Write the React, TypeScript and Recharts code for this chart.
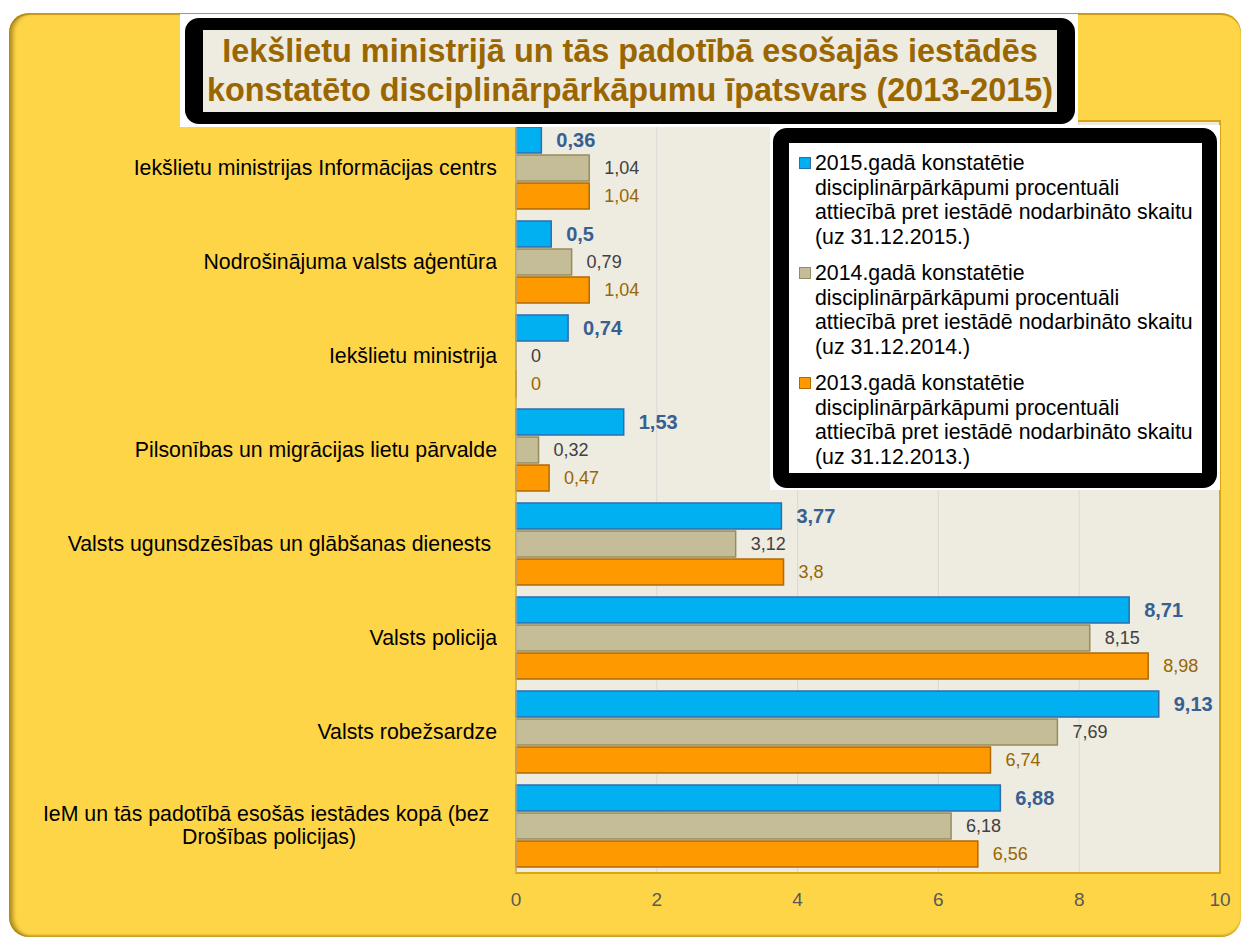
import React from 'react';
import {
  BarChart,
  Bar,
  XAxis,
  YAxis,
  CartesianGrid,
  Legend,
  LabelList,
  ReferenceArea,
} from 'recharts';

const categories = [
  'Iekšlietu ministrijas Informācijas centrs',
  'Nodrošinājuma valsts aģentūra',
  'Iekšlietu ministrija',
  'Pilsonības un migrācijas lietu pārvalde',
  'Valsts ugunsdzēsības un glābšanas dienests ',
  'Valsts policija',
  'Valsts robežsardze',
  'IeM un tās padotībā esošās iestādes kopā (bez Drošības policijas)',
];

const values2015 = [0.36, 0.5, 0.74, 1.53, 3.77, 8.71, 9.13, 6.88];
const values2014 = [1.04, 0.79, 0, 0.32, 3.12, 8.15, 7.69, 6.18];
const values2013 = [1.04, 1.04, 0, 0.47, 3.8, 8.98, 6.74, 6.56];

const xTicks = [0, 2, 4, 6, 8, 10];

const seriesNames: Record<string, string> = {
  y2015:
    '2015.gadā konstatētie\ndisciplinārpārkāpumi procentuāli\nattiecībā pret iestādē nodarbināto skaitu\n(uz 31.12.2015.)',
  y2014:
    '2014.gadā konstatētie\ndisciplinārpārkāpumi procentuāli\nattiecībā pret iestādē nodarbināto skaitu\n(uz 31.12.2014.)',
  y2013:
    '2013.gadā konstatētie\ndisciplinārpārkāpumi procentuāli\nattiecībā pret iestādē nodarbināto skaitu\n(uz 31.12.2013.)',
};

const seriesOrder = ['y2015', 'y2014', 'y2013'];

const styles: Record<string, { fill: string; stroke: string; label: string; bold: boolean; size: number }> = {
  y2015: { fill: '#00B0F0', stroke: '#2F6CAD', label: '#376092', bold: true, size: 20 },
  y2014: { fill: '#C4BD97', stroke: '#958D5E', label: '#404040', bold: false, size: 18 },
  y2013: { fill: '#FF9900', stroke: '#B06A05', label: '#996600', bold: false, size: 18 },
};

const rows = categories.map((name, i) => ({
  name,
  y2015: values2015[i],
  y2014: values2014[i],
  y2013: values2013[i],
}));

const FONT = '"Liberation Sans", Arial, sans-serif';

const fmt = (v: any) => String(v).replace('.', ',');

const CategoryTick = (props: any) => {
  const { x, y, payload } = props;
  return (
    <foreignObject x={x - 490} y={y - 35} width={490} height={70}>
      <div
        style={{
          width: '100%',
          height: '100%',
          display: 'flex',
          alignItems: 'center',
          justifyContent: 'flex-end',
        }}
      >
        <div
          style={{
            maxWidth: 456,
            textAlign: 'center',
            fontFamily: FONT,
            fontSize: 21.3,
            lineHeight: '23px',
            color: '#000',
            whiteSpace: 'break-spaces',
          }}
        >
          {payload.value}
        </div>
      </div>
    </foreignObject>
  );
};

// value label drawn from the bar's own box, so zero-length bars still get their "0"
const makeValueLabel = (k: string) => (props: any) => {
  const vb = props.viewBox || props;
  const { x, y, width, height } = vb;
  if (x == null || y == null) return null;
  const s = styles[k];
  return (
    <text
      x={x + Math.max(width || 0, 0) + 15}
      y={y + (height || 0) / 2}
      dy="0.35em"
      textAnchor="start"
      fill={s.label}
      fontSize={s.size}
      fontWeight={s.bold ? 'bold' : 'normal'}
      fontFamily={FONT}
    >
      {fmt(props.value)}
    </text>
  );
};

const LegendBox = (props: any) => {
  const payload: any[] = props.payload || [];
  const items = seriesOrder
    .map((k) => payload.find((p) => p.dataKey === k))
    .filter(Boolean);
  return (
    <div style={{ width: 450, height: 365, background: '#fff', padding: '3px 3px 2px 3px', boxSizing: 'border-box' }}>
      <div
        style={{
          width: '100%',
          height: '100%',
          boxSizing: 'border-box',
          border: '15px solid #000',
          borderLeftWidth: 16,
          borderRadius: 14,
          background: '#fff',
          padding: '8px 2px 0 10px',
          fontFamily: FONT,
          fontSize: 21.3,
          lineHeight: '24.5px',
          color: '#000',
        }}
      >
        {items.map((p: any) => (
          <div key={p.dataKey} style={{ display: 'flex', marginBottom: 12 }}>
            <div
              style={{
                width: 10,
                height: 10,
                marginTop: 6,
                marginRight: 4,
                flex: 'none',
                background: styles[p.dataKey].fill,
                border: `1px solid ${styles[p.dataKey].stroke}`,
              }}
            />
            <div style={{ whiteSpace: 'pre' }}>{p.value}</div>
          </div>
        ))}
      </div>
    </div>
  );
};

export default function App() {
  return (
    <div
      style={{
        position: 'absolute',
        left: 0,
        top: 0,
        width: 1241,
        height: 938,
        background: '#fff',
        overflow: 'hidden',
        fontFamily: FONT,
      }}
    >
      <div
        style={{
          position: 'absolute',
          left: 9,
          top: 13,
          width: 1232,
          height: 924,
          borderRadius: 20,
          background: '#FFD548',
          boxShadow:
            'inset 5px 0 4px -1px rgba(125,95,0,0.6), inset 0 2px 0 rgba(200,150,20,0.8), inset 0 -2px 2px rgba(150,110,0,0.4)',
        }}
      />
      <div style={{ position: 'absolute', left: 0, top: 0 }}>
        <BarChart
          width={1241}
          height={938}
          layout="vertical"
          data={rows}
          margin={{ top: 121, right: 21, bottom: 25, left: 0 }}
          barCategoryGap={6}
          barGap={2}
        >
          <CartesianGrid horizontal={false} stroke="#D9D9D9" fill="#EEEBE0" />
          <ReferenceArea x1={0} x2={10} fill="none" stroke="#D9A514" strokeWidth={2} />
          <XAxis
            type="number"
            domain={[0, 10]}
            ticks={xTicks}
            axisLine={false}
            tickLine={false}
            tickSize={0}
            tickMargin={20}
            height={40}
            tick={{ fill: '#595959', fontSize: 19, fontFamily: FONT }}
          />
          <YAxis
            type="category"
            dataKey="name"
            width={516}
            axisLine={{ stroke: '#C4C4C4' }}
            tickLine={false}
            tickSize={0}
            tickMargin={19}
            interval={0}
            tick={<CategoryTick />}
          />
          <Legend
            layout="horizontal"
            verticalAlign="middle"
            align="center"
            wrapperStyle={{ top: 125, left: 770, width: 450, height: 365 }}
            content={<LegendBox />}
          />
          {seriesOrder.map((k) => (
            <Bar
              key={k}
              dataKey={k}
              name={seriesNames[k]}
              fill={styles[k].fill}
              stroke={styles[k].stroke}
              strokeWidth={1.5}
              minPointSize={0.01}
              isAnimationActive={false}
            >
              <LabelList dataKey={k} content={makeValueLabel(k)} />
            </Bar>
          ))}
        </BarChart>
      </div>
      <div
        style={{
          position: 'absolute',
          left: 180,
          top: 14,
          width: 898,
          height: 113,
          background: '#fff',
          padding: '4px 3px 3px 5px',
          boxSizing: 'border-box',
        }}
      >
        <div
          style={{
            width: '100%',
            height: '100%',
            boxSizing: 'border-box',
            border: '12px solid #000',
            borderLeftWidth: 18,
            borderRightWidth: 18,
            borderRadius: 14,
            background: '#EEEBE0',
            paddingTop: 2,
            textAlign: 'center',
            fontFamily: FONT,
            fontWeight: 'bold',
            fontSize: 32.4,
            lineHeight: '39px',
            color: '#996600',
            whiteSpace: 'nowrap',
          }}
        >
          Iekšlietu ministrijā un tās padotībā esošajās iestādēs
          <br />
          konstatēto disciplinārpārkāpumu īpatsvars (2013-2015)
        </div>
      </div>
    </div>
  );
}
